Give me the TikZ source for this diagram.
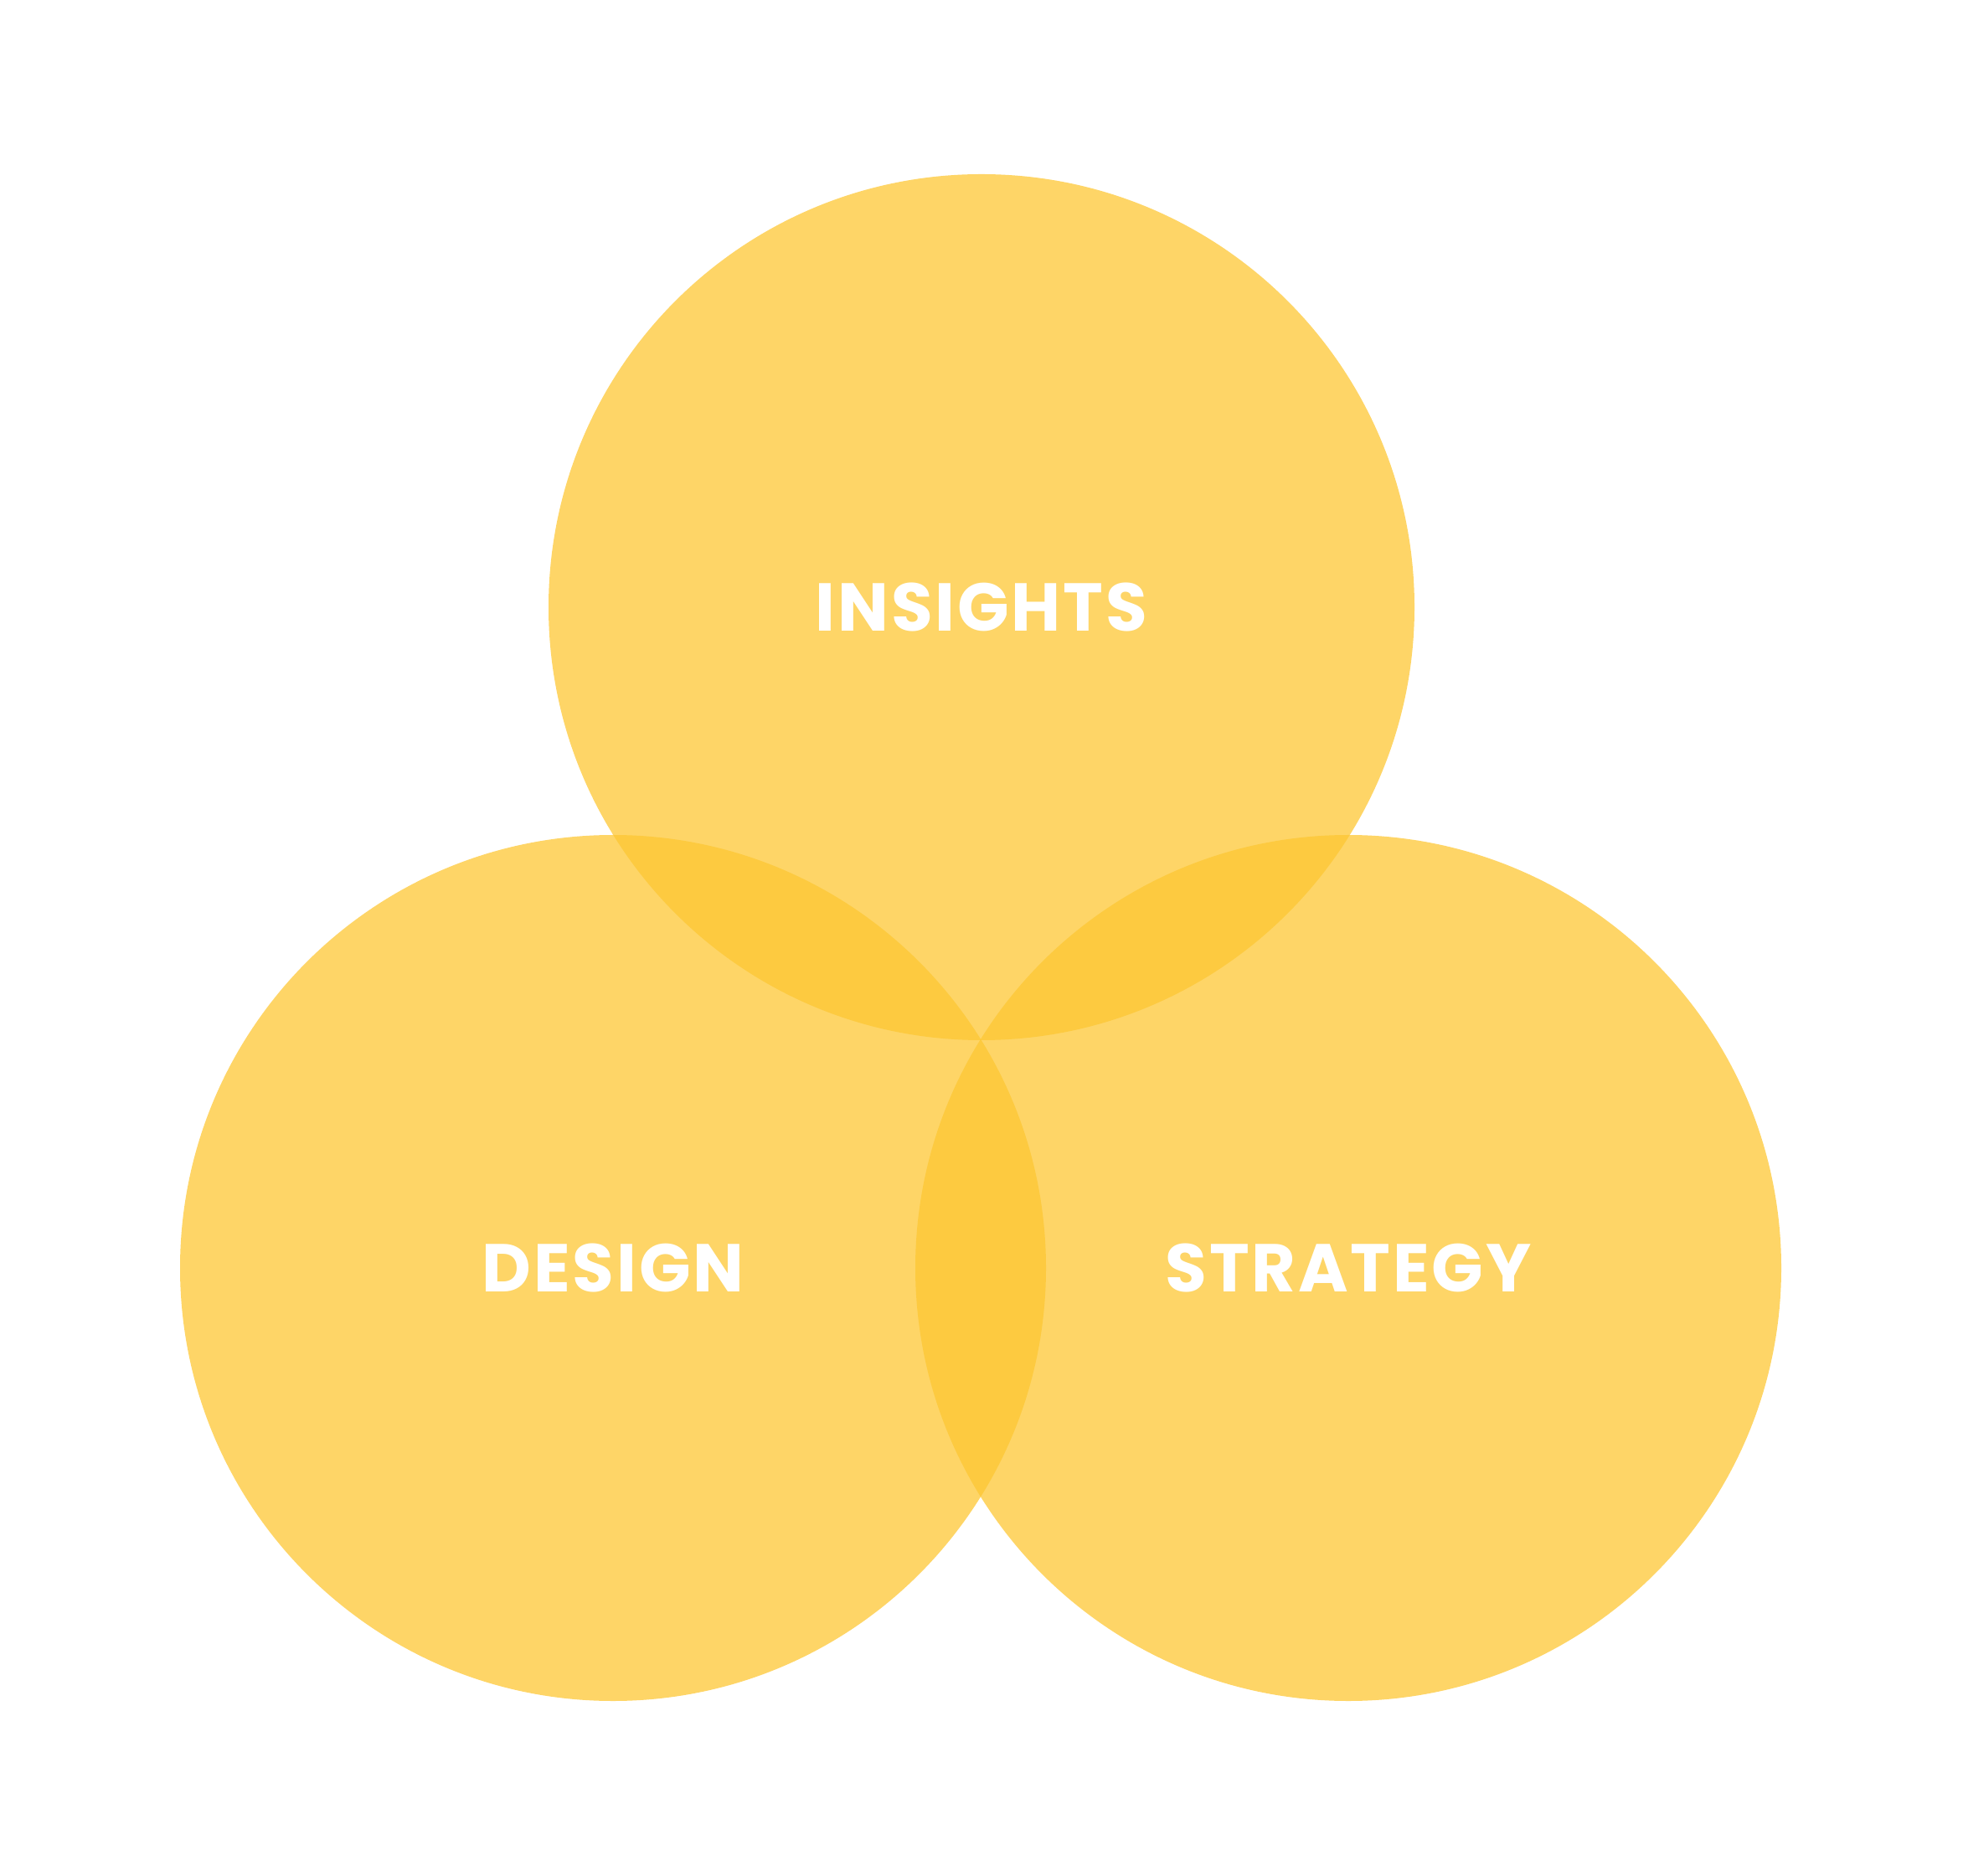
\documentclass[tikz,border=0pt]{standalone}
\usepackage{fontspec}
\setmainfont{Poppins}[LetterSpace=3.5]
\usetikzlibrary{positioning}
\definecolor{vennyellow}{RGB}{253,198,50}

\begin{document}
\begin{tikzpicture}[
  venn/.style={circle,inner sep=0pt,minimum size=10.34cm,fill=vennyellow,fill opacity=0.74},
  vennlabel/.style={text=white,font=\fontsize{23}{23}\selectfont\bfseries}]
\useasboundingbox (0,0) rectangle (23.44,22.39);
\node (insights) [venn] at (11.72,15.14) {};
\node (design) [venn] at (7.32,7.25) {};
\node (strategy) [venn] at (16.10,7.25) {};
\node [vennlabel] at (insights.center) {INSIGHTS};
\node [vennlabel] at (design.center) {DESIGN};
\node [vennlabel] at (strategy.center) {STRATEGY};
\end{tikzpicture}
\end{document}
